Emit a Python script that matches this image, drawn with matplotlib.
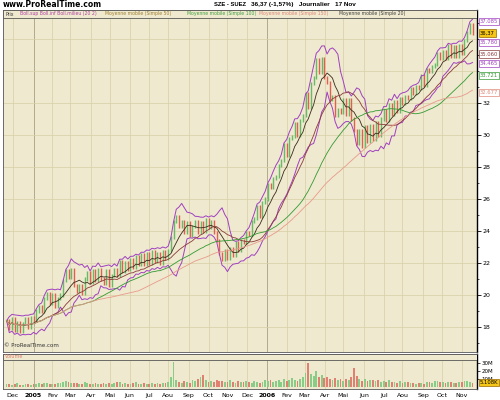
import numpy as np
import pandas as pd
import matplotlib
matplotlib.use('Agg')
import matplotlib.pyplot as plt
import matplotlib.transforms as mtransforms
from matplotlib.patches import Rectangle

# closes, one every 3 trading days
closes = [
    18.4, 17.9, 18.5, 17.8, 18.3, 17.7, 18.2, 18.5, 18.0, 18.6,
    18.4, 19.0, 19.3, 19.0, 19.8, 20.1, 19.5, 20.0, 19.3, 19.8,
    20.0, 20.9, 21.5, 21.1, 21.6, 20.6, 20.2, 20.6, 20.1, 21.0,
    21.4, 20.8, 21.5, 20.9, 21.6, 21.0, 20.7, 21.5, 20.6, 21.2,
    21.6, 21.2, 22.1, 21.5, 22.0, 21.6, 22.2, 21.7, 22.4, 21.9,
    22.5, 21.9, 22.6, 22.0, 22.7, 22.1, 22.6, 22.0, 22.7, 22.3,
    22.8, 23.6, 24.6, 24.9, 24.3, 24.6, 23.9, 24.5, 23.7, 24.3,
    24.6, 23.9, 24.5, 24.0, 24.7, 24.2, 24.6, 23.9, 23.4, 22.6,
    22.2, 22.8, 22.3, 22.9, 22.5, 23.3, 22.8, 23.4, 23.3, 23.9,
    23.8, 24.6, 24.8, 25.5, 24.9, 25.8, 26.0, 26.9, 26.7, 27.3,
    27.4, 28.1, 28.4, 29.4, 28.7, 29.8, 29.9, 30.7, 30.0, 30.9,
    31.2, 32.6, 31.7, 33.2, 33.6, 34.7, 33.9, 34.8, 33.6, 33.3,
    32.2, 32.4, 31.2, 31.6, 31.4, 32.2, 31.3, 32.2, 31.0, 30.3,
    29.5, 30.3, 29.3, 30.5, 29.6, 30.6, 29.7, 30.8, 30.0, 31.0,
    31.5, 30.9, 31.9, 31.3, 32.1, 31.5, 32.3, 32.0, 32.4, 32.3,
    32.9, 32.6, 33.0, 32.9, 33.7, 33.1, 34.1, 34.0, 34.3, 34.4,
    35.1, 34.8, 35.2, 34.8, 35.6, 34.9, 35.5, 34.9, 35.6, 35.1,
    35.9, 36.4, 36.9, 36.37,
]

# volume in millions
volumes = [
    3.5, 4.0, 2.8, 3.2, 4.5, 3.0, 2.6, 3.8, 3.1, 2.9,
    3.4, 4.2, 5.0, 3.6, 4.8, 5.5, 3.9, 4.1, 3.3, 4.6,
    5.2, 6.0, 7.5, 5.8, 4.9, 4.4, 5.1, 3.8, 4.2, 5.6,
    4.7, 3.9, 4.3, 5.0, 3.6, 4.1, 4.8, 3.5, 5.3, 4.0,
    4.4, 5.6, 6.2, 3.9, 4.5, 3.7, 4.0, 5.1, 6.8, 4.3,
    3.8, 4.6, 3.5, 4.1, 5.2, 3.6, 4.4, 3.9, 4.7, 5.0,
    6.5, 12.0, 31.0, 9.0, 6.1, 5.4, 7.2, 6.0, 5.5, 8.4,
    7.0, 9.5, 12.5, 15.0, 8.2, 6.8, 7.5, 6.2, 9.0, 8.0,
    7.3, 6.5, 5.8, 8.8, 6.0, 5.1, 6.9, 5.7, 6.3, 7.8,
    6.1, 5.5, 7.2, 6.6, 5.0, 6.8, 8.5, 7.4, 9.2, 6.3,
    7.9, 8.4, 6.7, 9.6, 7.5, 8.1, 11.0, 9.3, 7.8, 10.2,
    12.5, 18.0, 30.0, 16.5, 14.0, 19.5, 12.0, 15.5, 11.0, 13.0,
    10.5, 9.0, 11.5, 8.2, 9.6, 7.4, 10.0, 8.5, 12.0, 24.0,
    13.5, 9.8, 8.0, 10.5, 7.6, 9.2, 8.4, 7.1, 9.0, 6.8,
    7.5, 6.2, 8.1, 5.9, 6.6, 5.4, 7.0, 4.8, 5.6, 6.1,
    4.5, 5.2, 3.9, 4.8, 5.5, 4.2, 5.8, 6.4, 5.0, 6.9,
    7.2, 5.6, 6.3, 4.9, 5.8, 6.5, 5.1, 4.6, 5.9, 6.2,
    7.5, 8.0, 6.4, 5.1,
]

# right side value tags
tag_values = [37.085, 36.37, 35.780, 35.060, 34.465, 33.721, 32.677]
tag_labels = ['37.085', '36,37', '35.780', '35.060', '34.465', '33.721', '32.677']
tag_colors = ['#a040c0', '#000000', '#a040c0', '#8b3a3a', '#a040c0', '#339933', '#e08878']

month_names = ['Jan', 'Fev', 'Mar', 'Avr', 'Mai', 'Jun', 'Jul', 'Aou', 'Sep', 'Oct', 'Nov', 'Dec']

step = 3
n = len(closes)
days = pd.bdate_range(end='2006-11-17', periods=step * (n - 1) + 1)
x = np.arange(n) * step

close = pd.Series(closes)
opens = close.shift(1).fillna(close.iloc[0])
bb_mid = close.rolling(round(20 / step), min_periods=1).mean()
bb_std = close.rolling(round(20 / step), min_periods=1).std(ddof=0)
bb_up = bb_mid + 2 * bb_std
bb_lo = bb_mid - 2 * bb_std
ma50 = close.rolling(round(50 / step), min_periods=1).mean()
ma100 = close.rolling(round(100 / step), min_periods=1).mean()
ma150 = close.rolling(round(150 / step), min_periods=1).mean()

bg = '#efe9cf'
grid_c = '#d8cfa5'
up_c = '#66bb66'
dn_c = '#e06050'

fig = plt.figure(figsize=(5, 4), dpi=100)
ax = fig.add_axes([0.006, 0.12, 0.948, 0.855])
axv = fig.add_axes([0.006, 0.0275, 0.948, 0.0875], sharex=ax)

# month starts
ms = []
prev = None
for i, d in enumerate(days):
    if prev is None or d.month != prev:
        if i > 0:
            ms.append((i, d))
        prev = d.month
xmin, xmax = -4, x[-1] + 5

for a in (ax, axv):
    a.set_facecolor(bg)
    for i, d in ms:
        a.axvline(i, color='#a8a080' if d.month == 1 else grid_c, lw=0.6 if d.month == 1 else 0.5, zorder=0)
    for s in a.spines.values():
        s.set_color('#555555')
        s.set_linewidth(0.6)
    a.spines['right'].set_color('black')
    a.spines['right'].set_linewidth(1.0)

ax.set_xlim(xmin, xmax)
ax.set_ylim(16.44, 37.81)
for v in range(18, 37, 2):
    ax.axhline(v, color=grid_c, lw=0.5, zorder=0)

# candles
cols = [up_c if c >= o else dn_c for o, c in zip(opens, close)]
ax.vlines(x, np.minimum(opens, close) - 0.1, np.maximum(opens, close) + 0.1, colors=cols, lw=1.0, zorder=2)

ax.plot(x, bb_up, color='#a040c0', lw=0.7, zorder=3)
ax.plot(x, bb_lo, color='#a040c0', lw=0.7, zorder=3)
ax.plot(x, bb_mid, color='#3a2a1a', lw=0.6, zorder=3)
ax.plot(x, ma50, color='#8b3a3a', lw=0.6, zorder=3)
ax.plot(x, ma100, color='#339933', lw=0.6, zorder=3)
ax.plot(x, ma150, color='#e89a8a', lw=0.6, zorder=3)

ax.yaxis.tick_right()
ax.set_yticks(range(18, 33, 2))
ax.set_yticks(range(17, 38), minor=True)
ax.tick_params(axis='y', which='major', labelsize=4.5, length=3, width=0.6, pad=1)
ax.tick_params(axis='y', which='minor', length=1.5, width=0.5)
ax.tick_params(axis='x', bottom=False, labelbottom=False)

# legend strip
ax.add_patch(Rectangle((0, 1 - 8 / 342), 1, 8 / 342, transform=ax.transAxes,
                       fc=bg, ec='#555555', lw=0.6, zorder=4))
leg = [('Prix', '#333333', 2), ('Boll.sup Boll.inf Boll.milieu (20 2)', '#b040a0', 17),
       ('Moyenne mobile (Simple 50)', '#a08030', 102), ('Moyenne mobile (Simple 100)', '#40a040', 184),
       ('Moyenne mobile (Simple 150)', '#e08878', 256), ('Moyenne mobile (Simple 20)', '#404040', 336)]
for txt, c, px in leg:
    ax.text(px / 474, 1 - 4 / 342, txt, transform=ax.transAxes, fontsize=3.3, color=c,
            va='center', ha='left', zorder=5)

ax.text(0.002, 0.012, '© ProRealTime.com', transform=ax.transAxes, fontsize=4, color='#333333', va='bottom')

trans = mtransforms.blended_transform_factory(ax.transAxes, ax.transData)
for v, lab, c in zip(tag_values, tag_labels, tag_colors):
    fc = '#f5c518' if lab == '36,37' else 'white'
    ax.text(1.006, v, lab, transform=trans, fontsize=3.8, color=c, va='center', ha='left',
            bbox=dict(boxstyle='square,pad=0.2', fc=fc, ec=c if c != '#000000' else '#996600', lw=0.5),
            clip_on=False, zorder=6)

# volume
vcols = ['#88cc88' if c >= o else '#e08070' for o, c in zip(opens, close)]
axv.bar(x, volumes, width=2.0, color=vcols, zorder=2)
axv.set_ylim(-2.5, 41)
axv.yaxis.tick_right()
axv.set_yticks([10, 20, 30])
axv.set_yticklabels(['10M', '20M', '30M'])
axv.tick_params(axis='y', labelsize=4, length=2, width=0.5, pad=1)
axv.add_patch(Rectangle((0, 1 - 6 / 35), 1, 6 / 35, transform=axv.transAxes,
                        fc=bg, ec='#555555', lw=0.6, zorder=4))
axv.text(0.004, 1 - 3 / 35, 'Volume', transform=axv.transAxes, fontsize=3.5, color='#e08070',
         va='center', zorder=5)
transv = mtransforms.blended_transform_factory(axv.transAxes, axv.transData)
axv.text(1.006, volumes[-1], '5.108K', transform=transv, fontsize=3.8, color='black', va='center',
         bbox=dict(boxstyle='square,pad=0.2', fc='#f5c518', ec='#996600', lw=0.5), clip_on=False, zorder=6)

axv.set_xticks([i for i, d in ms])
axv.set_xticklabels([str(d.year) if d.month == 1 else month_names[d.month - 1] for i, d in ms])
for lbl, (i, d) in zip(axv.get_xticklabels(), ms):
    if d.month == 1:
        lbl.set_fontweight('bold')
axv.tick_params(axis='x', labelsize=4.5, length=0, pad=3)
axv.set_xlim(xmin, xmax)

fig.text(0.006, 0.988, 'www.ProRealTime.com', fontsize=5.5, fontweight='bold', va='center')
fig.text(0.492, 0.988, 'SZE - SUEZ', fontsize=4.2, fontweight='bold', va='center', ha='right',
         family='Liberation Sans')
fig.text(0.502, 0.988, '36,37 (-1,57%)   Journalier   17 Nov', fontsize=4.6, fontweight='bold',
         va='center', family='Liberation Sans')

fig.savefig('out.png', dpi=100, facecolor='white')
